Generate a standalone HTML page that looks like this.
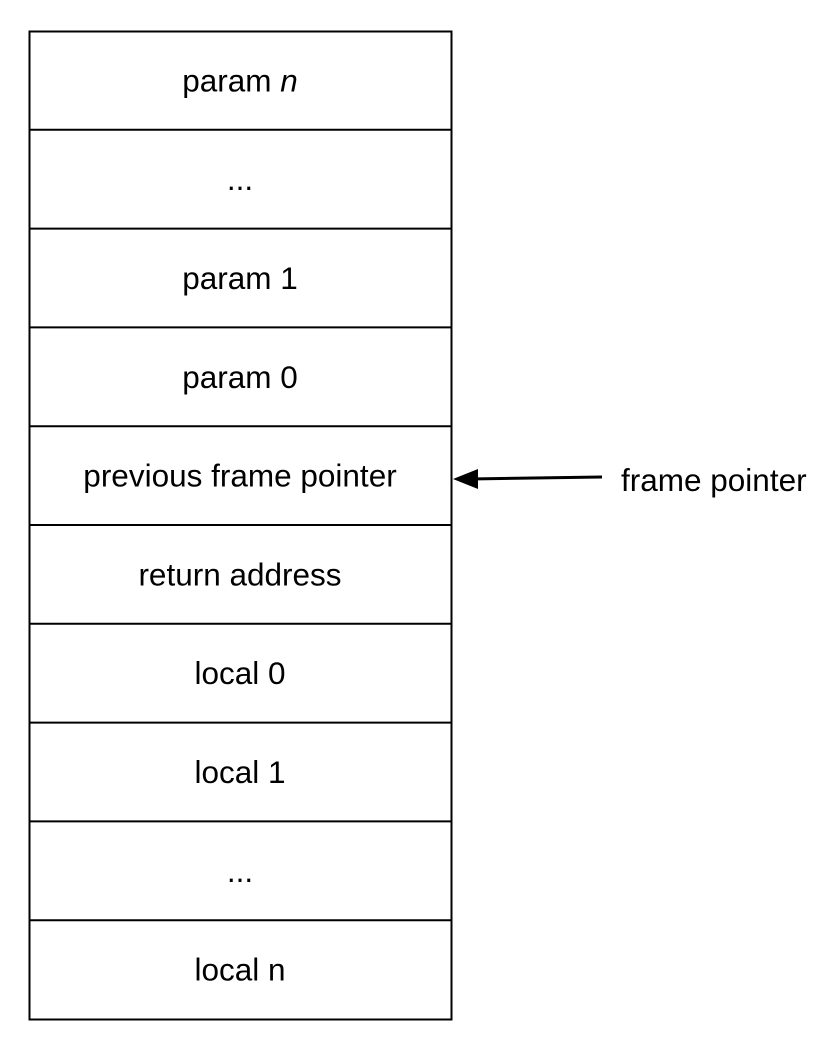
<!DOCTYPE html>
<html><head><meta charset="utf-8"><style>
html,body{margin:0;padding:0;background:#fff;width:838px;height:1050px;overflow:hidden}
svg{display:block}
text{font-family:"Liberation Sans",Arial,sans-serif;font-size:31.5px;fill:#000}
</style></head><body>
<svg width="838" height="1050">
<g id="rows"></g>
<rect x="29.5" y="31.5" width="422" height="988" fill="none" stroke="#000" stroke-width="2"/>
<g>
<line x1="602" y1="477" x2="470" y2="479" stroke="#000" stroke-width="3"/>
<polygon points="453,479 478,469 478,489" fill="#000"/>
</g>
<text x="621" y="491">frame pointer</text>
</svg>
<script>
const labels=["param n","...","param 1","param 0","previous frame pointer","return address","local 0","local 1","...","local n"];
const g=document.getElementById('rows');
const top0=31, h=98.8, L=29, R=451;
labels.forEach((lab,i)=>{
  const y=top0+i*h;
  if(i>0){
    const ln=document.createElementNS('http://www.w3.org/2000/svg','line');
    ln.setAttribute('x1',L);ln.setAttribute('x2',R);ln.setAttribute('y1',y);ln.setAttribute('y2',y);
    ln.setAttribute('stroke','#000');ln.setAttribute('stroke-width','2');
    
    
    g.appendChild(ln);
  }
  const t=document.createElementNS('http://www.w3.org/2000/svg','text');
  t.setAttribute('x',(L+R)/2);t.setAttribute('y',y+h/2+11);t.setAttribute('text-anchor','middle');
  if(lab==="param n"){
    t.appendChild(document.createTextNode('param '));
    const ts=document.createElementNS('http://www.w3.org/2000/svg','tspan');
    ts.setAttribute('font-style','italic');ts.textContent='n';t.appendChild(ts);
  } else t.textContent=lab;
  
  
  g.appendChild(t);
});
</script>
</body></html>
